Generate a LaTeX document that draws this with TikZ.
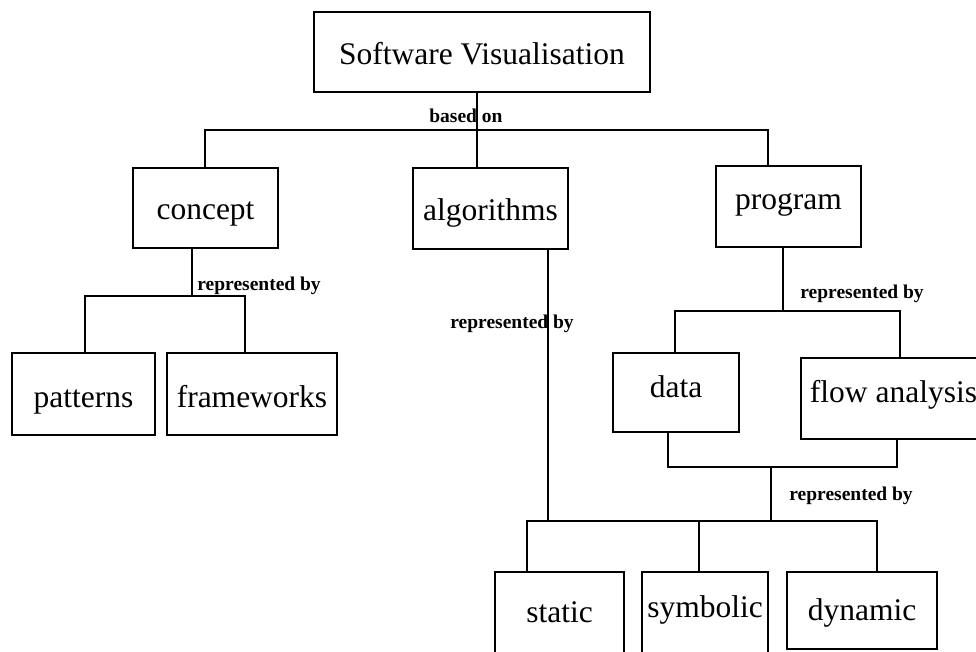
\documentclass[tikz,border=0pt]{standalone}
\usepackage{fontspec}
\setmainfont{Liberation Serif}
\begin{document}
\begin{tikzpicture}[x=1pt,y=-1pt,
  line width=2.8pt, line join=miter,
  box/.style={draw, rectangle, inner sep=0pt, text height=31pt, text depth=7pt, font=\fontsize{31.5}{36}\selectfont},
  highbox/.style={box, text height=22pt, text depth=15pt},
  lab/.style={inner sep=0pt, font=\fontsize{19.5}{22}\selectfont\bfseries},
  link/.style={draw, line width=2.8pt}]
\useasboundingbox (0,0) rectangle (976,652);
% boxes
\node[box, minimum width=336pt, minimum height=80pt, text height=33pt] (sv) at (482,52) {Software Visualisation};
\node[box, minimum width=145pt, minimum height=80pt] (concept) at (205.5,208) {concept};
\node[box, minimum width=155pt, minimum height=81pt] (algo) at (490.5,208.5) {algorithms};
\node[highbox, minimum width=145pt, minimum height=81pt] (program) at (788.5,206.5) {program};
\node[box, minimum width=143pt, minimum height=82pt, text height=33pt] (patterns) at (83.5,394) {patterns};
\node[box, minimum width=170pt, minimum height=82pt, text height=33pt] (frameworks) at (252,394) {frameworks};
\node[highbox, minimum width=126pt, minimum height=79pt, text depth=13pt] (data) at (676,392.5) {data};
\node[highbox, minimum width=185pt, minimum height=81pt] (flow) at (893.5,398.5) {flow analysis};
\node[highbox, minimum width=129pt, minimum height=93pt] (static) at (559.5,618.5) {static};
\node[highbox, minimum width=126pt, minimum height=93pt, text depth=25pt] (symbolic) at (705,618.5) {symbolic};
\node[box, minimum width=150pt, minimum height=77pt, text height=26pt] (dynamic) at (862,610.5) {dynamic};
% junction points
\coordinate (j1) at (477,130);
\coordinate (j2) at (192,296);
\coordinate (j3) at (783,311);
\coordinate (j4) at (771,467);
\coordinate (j5) at (771,521);
% connectors
\draw[link] ([xshift=-5pt]sv.south) -- ([xshift=-5pt]sv.south |- algo.north);
\draw[link] ([xshift=-0.5pt]concept.north) |- (j1) -| ([xshift=-20.5pt]program.north);
\draw[link] ([xshift=-13.5pt]concept.south) -- (j2);
\draw[link] ([xshift=1.5pt]patterns.north) |- (j2) -| ([xshift=-7pt]frameworks.north);
\draw[link] ([xshift=57.5pt]algo.south) -- ([xshift=57.5pt]algo.south |- j5);
\draw[link] ([xshift=-5.5pt]program.south) -- (j3);
\draw[link] ([xshift=-1pt]data.north) |- (j3) -| ([xshift=6.5pt]flow.north);
\draw[link] ([xshift=-8pt]data.south) |- (j4) -| ([xshift=3.5pt]flow.south);
\draw[link] (j4) -- (j5);
\draw[link] ([xshift=-32.5pt]static.north) |- (j5) -| ([xshift=15pt]dynamic.north);
\draw[link] ([xshift=-6pt]symbolic.north) -- ([xshift=-6pt]symbolic.north |- j5);
% labels
\node[lab, anchor=base west] (l1) at (428,123) {based on};
\node[lab, anchor=base west] (l2) at (196,290) {represented by};
\node[lab, anchor=base west] (l3) at (449,328) {represented by};
\node[lab, anchor=base west] (l4) at (799,298) {represented by};
\node[lab, anchor=base west] (l5) at (788,500) {represented by};
\end{tikzpicture}
\end{document}
